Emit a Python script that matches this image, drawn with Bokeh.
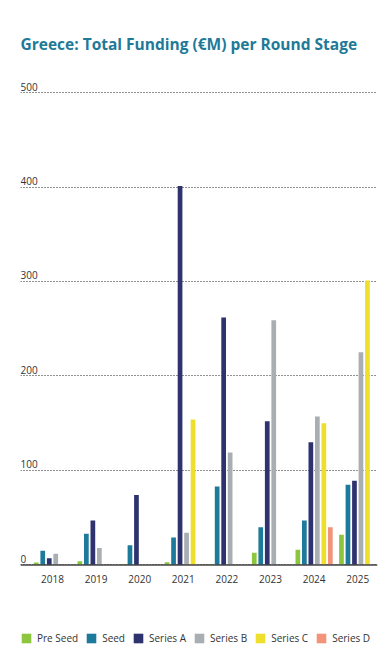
from bokeh.plotting import figure
from bokeh.models import (Range1d, Legend, LegendItem, Label, ColumnDataSource,
                          FixedTicker, Span)
from bokeh.transform import dodge
from bokeh.embed import file_html
from bokeh.resources import INLINE

years = [2018, 2019, 2020, 2021, 2022, 2023, 2024, 2025]
pre_seed = [2.5, 4, 1, 3, 1, 13, 16, 32]
seed = [15, 33, 21, 29, 83, 40, 47, 85]
series_a = [7, 47, 74, 401, 262, 152, 130, 89]
series_b = [12, 18, 0, 34, 119, 259, 157, 225]
series_c = [0, 0, 0, 154, 0, 0, 150, 301]
series_d = [0, 0, 0, 0, 0, 0, 40, 0]
y_ticks = [0, 100, 200, 300, 400, 500]

series_names = ["Pre Seed", "Seed", "Series A", "Series B", "Series C", "Series D"]
series_keys = ["pre_seed", "seed", "series_a", "series_b", "series_c", "series_d"]
colors = ["#8CC63F", "#1E7A9A", "#2E3370", "#A9AEB3", "#EEDF2C", "#F2937A"]

source = ColumnDataSource(dict(years=years, pre_seed=pre_seed, seed=seed,
                               series_a=series_a, series_b=series_b,
                               series_c=series_c, series_d=series_d))

FONT = "Open Sans"

p = figure(frame_width=357, frame_height=590, output_backend="svg", toolbar_location=None,
           x_range=Range1d(2017.266, 2025.454), y_range=Range1d(-101.1, 523.3),
           min_border_left=20, min_border_right=3, min_border_top=70,
           min_border_bottom=0)
p.outline_line_color = None

p.title.text = "Greece: Total Funding (€M) per Round Stage"
p.title.text_color = "#1E7A97"
p.title.text_font = FONT
p.title.text_font_size = "15.5px"
p.title.text_font_style = "bold"
p.title.align = "left"
p.title.standoff = 32

slot = 0.149
bar_w = 0.108
items = []
for i, (key, name, col) in enumerate(zip(series_keys, series_names, colors)):
    r = p.vbar(x=dodge("years", (i - 2.5) * slot), top=key, bottom=0, width=bar_w,
               source=source, color=col, line_color=None)
    items.append(LegendItem(label=name, renderers=[r]))

p.xgrid.grid_line_color = None
p.ygrid.ticker = FixedTicker(ticks=y_ticks)
p.ygrid.grid_line_color = "#222222"
p.ygrid.grid_line_dash = "1 2"
p.ygrid.grid_line_width = 1

p.xaxis.visible = False
p.yaxis.visible = False

p.add_layout(Span(location=0, dimension="width", line_color="#444444", line_width=1.5))

for v in y_ticks:
    p.add_layout(Label(x=0, x_units="screen", y=v, y_offset=6, text=str(v),
                       text_font=FONT, text_font_size="10px",
                       text_color="#333333", text_baseline="alphabetic"))

for yr in years:
    p.add_layout(Label(x=yr, y=0, y_offset=-10, text=str(yr),
                       text_font=FONT, text_font_size="10px",
                       text_color="#333333", text_align="center",
                       text_baseline="top"))

legend = Legend(items=items, orientation="horizontal", location=(0, 15),
                glyph_width=12, glyph_height=12, label_standoff=5, spacing=7,
                padding=0, margin=0, border_line_color=None,
                background_fill_alpha=0,
                label_text_font=FONT, label_text_font_size="10px",
                label_text_color="#333333")
p.add_layout(legend, "center")

open("out.html", "w").write(file_html(p, INLINE))
